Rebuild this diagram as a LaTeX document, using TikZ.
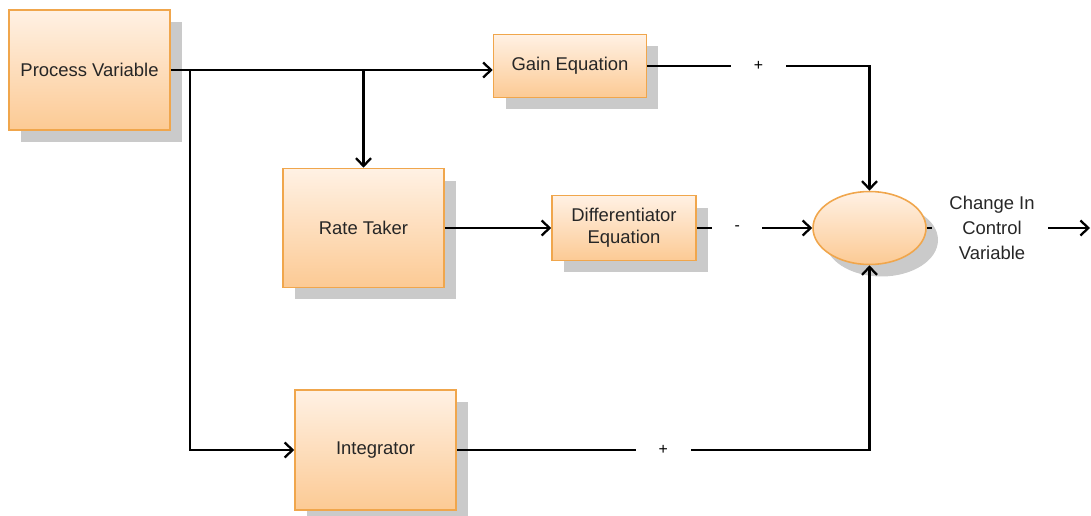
\documentclass[tikz,border=0pt]{standalone}
\usepackage{fontspec}
\setmainfont{Liberation Sans}
\usetikzlibrary{arrows.meta,shapes.geometric,shadows}

\definecolor{boxtop}{RGB}{255,241,228}
\definecolor{boxbot}{RGB}{252,202,148}
\definecolor{boxline}{RGB}{240,166,76}
\definecolor{shade}{RGB}{202,202,202}

\tikzset{
  block/.style={draw=boxline, line width=0.9pt, top color=boxtop, bottom color=boxbot,
    drop shadow={shadow xshift=0.24cm, shadow yshift=-0.24cm, fill=shade, opacity=1},
    font=\fontsize{10.5}{12.5}\selectfont, text=black!85, align=center, inner sep=2pt},
  sumnode/.style={block, ellipse, minimum width=2.26cm, minimum height=1.46cm},
  wire/.style={line width=1.3pt},
  flow/.style={wire, -{Straight Barb[length=4.5pt,width=8.5pt]}},
  sign/.style={fill=white, inner sep=0pt, minimum width=1.1cm, minimum height=0.45cm,
    font=\fontsize{9}{10}\selectfont},
}

\begin{document}
\begin{tikzpicture}[x=0.02cm, y=-0.02cm]  % one unit is one pixel of the reference

            \useasboundingbox (0,0) rectangle (1091,516);

            % Blocks
            \node[block, minimum width=3.22cm, minimum height=2.4cm] (pv) at (89.5,70) {Process Variable};
            \node[block, minimum width=3.06cm, minimum height=1.26cm] (gain) at (570,66) {Gain Equation};
            \node[block, minimum width=3.22cm, minimum height=2.38cm] (rate) at (363.5,228) {Rate Taker};
            \node[block, minimum width=2.88cm, minimum height=1.3cm] (diff) at (624,228) {Differentiator\\Equation};
            \node[block, minimum width=3.22cm, minimum height=2.4cm] (integ) at (375.5,450) {Integrator};
            \node[sumnode] (sum) at (869.5,228) {};

            % Output
            \node[font=\fontsize{10.5}{14}\selectfont, text=black!85, align=center] (cv) at (992,228) {Change In\\Control\\Variable};
            \coordinate (stub) at (932,228);
            \coordinate (outA) at (1048,228);
            \coordinate (outB) at (1090,228);

            % Branch points
            \coordinate (j1) at (190,70);
            \coordinate (j2) at (363.5,70);

            % Connectors
            \draw[flow] (pv.east) -- (pv.east -| gain.west);
            \draw[flow] (j2) -- (rate.north);
            \draw[flow] (j1) |- (integ.west);
            \draw[flow] (rate.east) -- (diff.west);
            \draw[flow] (gain.east) -| node[sign, pos=0.25] {+} (sum.north);
            \draw[flow] (diff.east) -- node[sign, pos=0.35, minimum width=1.0cm] {-} (sum.west);
            \draw[flow] (integ.east) -| node[sign, pos=0.25] {+} (sum.south);
            \draw[wire] (sum.east) -- (stub);
            \draw[flow] (outA) -- (outB);

        \end{tikzpicture}
\end{document}
